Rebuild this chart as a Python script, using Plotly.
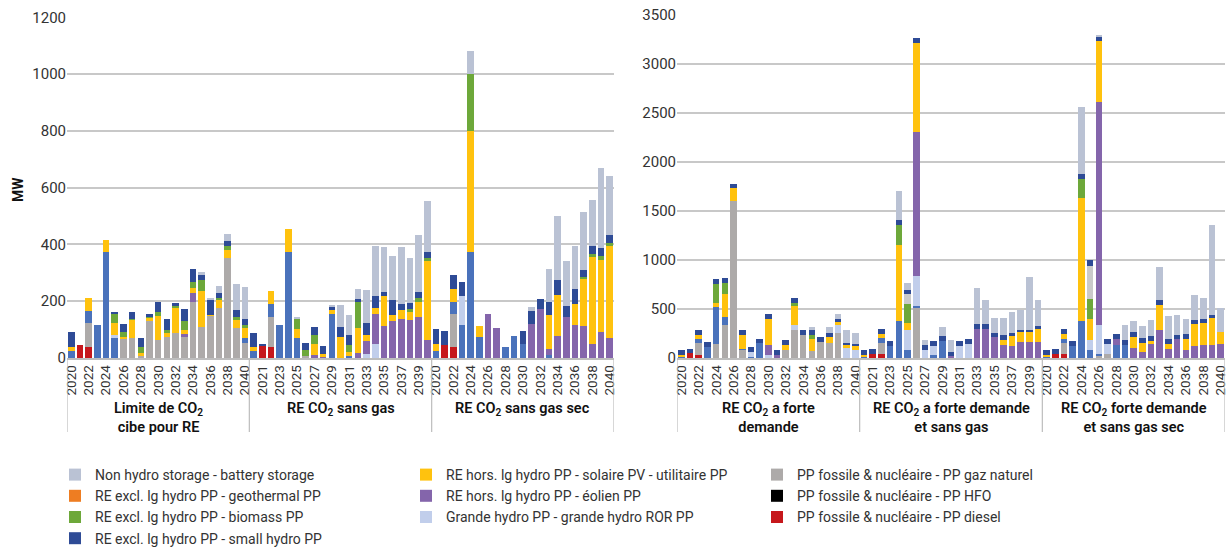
import plotly.graph_objects as go

# ---------------- data ----------------
years = list(range(2020, 2041))

p1_groups = ["Limite de CO<sub>2</sub><br>cibe pour RE",
             "RE CO<sub>2</sub> sans gas",
             "RE CO<sub>2</sub> sans gas sec"]
p2_groups = ["RE CO<sub>2</sub> a forte<br>demande",
             "RE CO<sub>2</sub> a forte demande<br>et sans gas",
             "RE CO<sub>2</sub> forte demande<br>et sans gas sec"]

series_names = {
    "diesel": "PP fossile & nucléaire - PP diesel",
    "hfo": "PP fossile & nucléaire - PP HFO",
    "gas": "PP fossile & nucléaire - PP gaz naturel",
    "dam": "Grande hydro PP - grande hydro barrage",
    "ror": "Grande hydro PP - grande hydro ROR PP",
    "wind": "RE hors. lg hydro PP - éolien PP",
    "solar": "RE hors. lg hydro PP - solaire PV - utilitaire PP",
    "bio": "RE excl. lg hydro PP - biomass PP",
    "geo": "RE excl. lg hydro PP - geothermal PP",
    "other": "Autre",
    "small": "RE excl. lg hydro PP - small hydro PP",
    "storage": "Non hydro storage - battery storage",
}
Z = [0] * 21

# Panel 1 (MW), three scenarios x 21 years
p1_diesel = [0, 46, 39] + [0] * 18 + [0, 44, 39] + [0] * 18 + [0, 45, 40] + [0] * 18
p1_hfo = Z + Z + Z
p1_gas = ([0, 0, 83, 0, 0, 0, 68, 70, 7, 129, 65, 74, 88, 73, 197, 109, 148, 177, 352, 104, 53]
          + [0, 0, 107, 0, 0, 0, 8, 0, 0, 0, 0, 0, 0, 0, 0, 0, 0, 0, 0, 0, 0]
          + [0, 0, 115, 0, 0, 0, 0, 0, 0, 0, 0, 0, 0, 0, 0, 0, 0, 0, 0, 0, 0])
p1_dam = ([26, 0, 44, 117, 375, 71, 0, 0, 0, 0, 0, 0, 0, 0, 0, 0, 0, 0, 0, 0, 18]
          + [25, 0, 45, 117, 374, 72, 0, 0, 0, 156, 0, 7, 0, 0, 0, 0, 0, 0, 0, 0, 0]
          + [26, 0, 44, 116, 375, 73, 0, 0, 40, 78, 49, 0, 0, 11, 0, 0, 0, 0, 0, 0, 0])
p1_ror = ([0, 0, 0, 0, 0, 9, 0, 0, 0, 0, 0, 0, 0, 0, 0, 0, 0, 0, 0, 0, 0]
          + [0, 0, 0, 0, 0, 0, 0, 0, 0, 0, 0, 0, 0, 14, 50, 0, 0, 0, 0, 0, 0]
          + [0, 0, 0, 103, 0, 0, 0, 0, 0, 0, 0, 0, 0, 0, 0, 0, 0, 0, 0, 0, 0])
p1_wind = ([0, 0, 0, 0, 0, 0, 0, 0, 0, 0, 0, 0, 0, 10, 33, 0, 0, 0, 0, 0, 0]
           + [0, 0, 0, 0, 0, 0, 0, 12, 5, 0, 0, 0, 17, 47, 106, 111, 129, 137, 135, 146, 64]
           + [0, 0, 0, 0, 0, 0, 155, 105, 0, 0, 0, 120, 173, 20, 78, 144, 116, 111, 49, 91, 69])
p1_solar = ([12, 0, 45, 0, 40, 45, 7, 63, 12, 11, 82, 14, 89, 17, 18, 127, 5, 29, 29, 29, 35]
            + [13, 0, 44, 0, 81, 31, 0, 38, 8, 14, 75, 13, 90, 20, 19, 106, 24, 31, 28, 53, 277]
            + [23, 0, 43, 0, 426, 41, 0, 0, 0, 0, 0, 0, 0, 121, 144, 0, 75, 169, 309, 255, 324])
p1_bio = ([0, 0, 0, 0, 0, 30, 18, 4, 21, 4, 16, 12, 6, 32, 20, 38, 0, 4, 14, 12, 12]
          + [0, 0, 0, 0, 0, 34, 20, 31, 0, 0, 0, 26, 91, 0, 0, 0, 0, 0, 10, 12, 12]
          + [0, 0, 0, 0, 201, 0, 0, 0, 0, 0, 0, 0, 0, 0, 0, 0, 0, 6, 7, 12, 12])
p1_geo = Z + Z + Z
p1_other = Z + Z + Z
p1_small = ([52, 0, 0, 0, 0, 5, 26, 26, 30, 11, 34, 38, 12, 41, 45, 20, 53, 20, 18, 23, 21]
            + [50, 6, 0, 0, 0, 0, 26, 28, 29, 8, 34, 35, 11, 42, 44, 17, 52, 21, 21, 21, 21]
            + [52, 50, 51, 50, 0, 0, 0, 0, 0, 0, 47, 47, 34, 47, 51, 40, 51, 25, 31, 29, 29])
p1_storage = ([0, 0, 0, 0, 0, 0, 0, 0, 0, 0, 0, 0, 0, 0, 0, 9, 4, 24, 24, 94, 112]
              + [0, 0, 0, 0, 0, 3, 0, 0, 0, 10, 79, 72, 35, 115, 175, 158, 154, 202, 159, 201, 179]
              + [0, 0, 0, 0, 81, 0, 0, 0, 0, 0, 0, 14, 0, 116, 226, 158, 153, 202, 159, 281, 208])

# Panel 2 (MW)
p2_diesel = [0, 48, 34] + [0] * 18 + [0, 45, 44] + [0] * 18 + [0, 44, 44] + [0] * 18
p2_hfo = Z + Z + Z
p2_gas = ([0, 0, 116, 0, 143, 337, 1601, 82, 0, 0, 0, 0, 78, 286, 235, 75, 167, 153, 255, 0, 0]
          + [0, 0, 112, 0, 0, 0, 520, 0, 0, 0, 0, 0, 0, 0, 0, 0, 0, 0, 0, 0, 0]
          + [0, 0, 112, 0, 0, 0, 27, 44, 0, 0, 0, 0, 0, 0, 0, 0, 0, 0, 0, 0, 0])
p2_dam = ([20, 0, 40, 116, 374, 81, 0, 6, 10, 150, 0, 0, 0, 0, 0, 0, 0, 0, 0, 0, 0]
          + [20, 0, 48, 125, 374, 78, 14, 0, 27, 170, 0, 0, 0, 0, 0, 0, 0, 0, 0, 0, 0]
          + [18, 0, 41, 122, 374, 78, 17, 0, 129, 136, 0, 0, 0, 0, 0, 0, 0, 0, 0, 0, 0])
p2_ror = ([0, 0, 0, 0, 0, 0, 0, 0, 51, 0, 27, 5, 0, 47, 0, 0, 0, 0, 85, 99, 85]
          + [0, 0, 0, 0, 0, 211, 302, 82, 100, 0, 0, 125, 140, 0, 0, 0, 0, 0, 0, 0, 0]
          + [0, 0, 0, 0, 0, 102, 289, 102, 0, 0, 0, 0, 0, 0, 0, 0, 0, 0, 0, 0, 0])
p2_wind = ([0, 0, 0, 0, 0, 0, 0, 0, 0, 0, 102, 25, 0, 0, 0, 0, 0, 0, 0, 0, 0]
           + [0, 0, 0, 0, 0, 0, 1469, 0, 0, 0, 25, 0, 0, 300, 300, 214, 129, 119, 163, 163, 163]
           + [0, 0, 0, 0, 0, 0, 2278, 0, 68, 0, 105, 61, 139, 282, 95, 190, 78, 122, 129, 129, 139])
p2_solar = ([15, 0, 45, 0, 41, 235, 130, 147, 0, 0, 272, 0, 55, 197, 0, 115, 0, 61, 31, 34, 34]
            + [15, 0, 44, 0, 782, 68, 911, 0, 0, 0, 0, 0, 0, 0, 0, 0, 51, 105, 102, 109, 143]
            + [10, 0, 51, 0, 1258, 214, 619, 0, 0, 0, 109, 95, 34, 262, 51, 0, 119, 221, 228, 289, 126])
p2_bio = ([0, 0, 0, 0, 193, 116, 0, 0, 0, 0, 0, 0, 0, 34, 0, 48, 0, 0, 0, 0, 0]
          + [0, 0, 0, 0, 204, 197, 0, 0, 0, 0, 0, 0, 0, 0, 0, 0, 0, 0, 0, 0, 0]
          + [0, 0, 0, 0, 197, 204, 0, 0, 0, 0, 0, 0, 0, 0, 0, 0, 0, 0, 0, 0, 0])
p2_geo = Z + Z + Z
p2_other = ([0] * 21
            + [0, 0, 0, 0, 0, 102, 0, 0, 0, 0, 0, 0, 0, 0, 0, 0, 0, 0, 0, 0, 0]
            + [0, 0, 0, 0, 0, 340, 0, 0, 0, 0, 0, 0, 0, 0, 0, 0, 0, 0, 0, 0, 0])
p2_small = ([45, 40, 51, 47, 51, 47, 47, 51, 48, 47, 51, 50, 47, 51, 54, 48, 47, 44, 23, 20, 24]
            + [50, 45, 51, 46, 44, 41, 51, 50, 50, 55, 40, 50, 50, 48, 50, 44, 58, 34, 24, 17, 20]
            + [55, 51, 51, 48, 51, 58, 44, 44, 44, 44, 51, 48, 51, 51, 51, 48, 51, 48, 44, 17, 0])
p2_storage = ([0, 0, 0, 0, 0, 0, 0, 0, 0, 0, 0, 0, 0, 0, 0, 30, 0, 62, 58, 129, 115]
              + [0, 0, 0, 0, 299, 71, 0, 55, 0, 95, 115, 0, 0, 370, 245, 150, 170, 211, 197, 537, 262]
              + [0, 0, 0, 0, 680, 0, 24, 0, 0, 160, 109, 119, 160, 333, 228, 197, 153, 248, 211, 918, 245])

# ---------------- styling ----------------
order = ["diesel", "hfo", "gas", "dam", "ror", "wind", "solar", "bio", "geo", "other", "small", "storage"]
colors = {
    "diesel": "#C6171C", "hfo": "#000000", "gas": "#ADAAA9", "dam": "#4A72BB",
    "ror": "#C1CEEB", "wind": "#8465AB", "solar": "#FFC20E", "bio": "#6DA83A",
    "geo": "#EE7D22", "other": "#CACACA", "small": "#2E4B96", "storage": "#BAC2D4",
}
legend_rank = {"storage": 1, "solar": 2, "gas": 3, "geo": 4, "wind": 5, "hfo": 6,
               "bio": 7, "ror": 8, "diesel": 9, "small": 10}
p1 = {"diesel": p1_diesel, "hfo": p1_hfo, "gas": p1_gas, "dam": p1_dam, "ror": p1_ror,
      "wind": p1_wind, "solar": p1_solar, "bio": p1_bio, "geo": p1_geo, "other": p1_other,
      "small": p1_small, "storage": p1_storage}
p2 = {"diesel": p2_diesel, "hfo": p2_hfo, "gas": p2_gas, "dam": p2_dam, "ror": p2_ror,
      "wind": p2_wind, "solar": p2_solar, "bio": p2_bio, "geo": p2_geo, "other": p2_other,
      "small": p2_small, "storage": p2_storage}

n_years = len(years)
n_bars = n_years * 3
xpos = list(range(n_bars))
tickvals = xpos[::2]
ticktext = [str(years[i % n_years]) for i in tickvals]

FONT = "Roboto, Lato, sans-serif"
W, H = 1228, 549
y_bottom = 1 - 358 / H

fig = go.Figure()
for panel, data, xa, ya in [(1, p1, "x", "y"), (2, p2, "x2", "y2")]:
    for key in order:
        show = panel == 1 and key in legend_rank
        fig.add_trace(go.Bar(
            x=xpos, y=data[key], name=series_names[key],
            marker=dict(color=colors[key], line=dict(width=0)),
            xaxis=xa, yaxis=ya, legendgroup=key, showlegend=show,
            legendrank=legend_rank.get(key, 100),
        ))

axis_common = dict(
    range=[-0.5, n_bars - 0.5], tickmode="array", tickvals=tickvals, ticktext=ticktext,
    tickangle=-90, tickfont=dict(family=FONT, size=13.5, color="#333"),
    showgrid=False, showline=True, linecolor="#BDBDBD", linewidth=1.5,
    ticks="", zeroline=False, automargin=False, ticklabeloverflow="allow",
)
fig.update_layout(
    width=W, height=H, barmode="stack", bargap=0.24,
    plot_bgcolor="white", paper_bgcolor="white",
    margin=dict(l=0, r=0, t=0, b=0, autoexpand=False),
    font=dict(family=FONT, color="#222"),
    xaxis=dict(domain=[67 / W, 614 / W], anchor="y", **axis_common),
    xaxis2=dict(domain=[677 / W, 1225 / W], anchor="y2", **axis_common),
    yaxis=dict(domain=[y_bottom, 1 - 17.3 / H], range=[0, 1200], dtick=200,
               anchor="x", showgrid=True, gridcolor="#C8C8C8", gridwidth=1.5,
               zeroline=False, showline=False, automargin=False,
               tickfont=dict(family=FONT, size=15, color="#333")),
    yaxis2=dict(domain=[y_bottom, 1 - 15 / H], range=[0, 3500], dtick=500,
                anchor="x2", showgrid=True, gridcolor="#C8C8C8", gridwidth=1.5,
                zeroline=False, showline=False, automargin=False,
                tickfont=dict(family=FONT, size=15, color="#333")),
    legend=dict(orientation="h", x=55 / W, xanchor="left", y=1 - 459 / H, yanchor="top",
                entrywidth=306, entrywidthmode="pixels", traceorder="normal",
                font=dict(family=FONT, size=14, color="#333"), bgcolor="rgba(0,0,0,0)"),
    showlegend=True,
)

# Group dividers and labels
shapes = []
annotations = []
for xa, groups in [("x", p1_groups), ("x2", p2_groups)]:
    for b in [-0.5, n_years - 0.5, 2 * n_years - 0.5, 3 * n_years - 0.5]:
        shapes.append(dict(type="line", xref=xa, yref="paper", x0=b, x1=b,
                           y0=y_bottom, y1=1 - 432 / H,
                           line=dict(color="#BDBDBD", width=1.2)))
    for g, label in enumerate(groups):
        annotations.append(dict(xref=xa, yref="paper", x=g * n_years + (n_years - 1) / 2,
                                y=1 - 398 / H, yanchor="top", xanchor="center",
                                text=label, showarrow=False, align="center",
                                font=dict(family=FONT, size=14.5, color="#111", weight=600)))
annotations.append(dict(xref="paper", yref="paper", x=18 / W, y=1 - 190 / H,
                        xanchor="center", yanchor="middle",
                        text="MW", textangle=-90, showarrow=False,
                        font=dict(family=FONT, size=14, color="#111", weight="bold")))
fig.update_layout(shapes=shapes, annotations=annotations)

fig.write_html("out.html", config={"displayModeBar": False},
               post_script="document.body.style.margin='0px';")
